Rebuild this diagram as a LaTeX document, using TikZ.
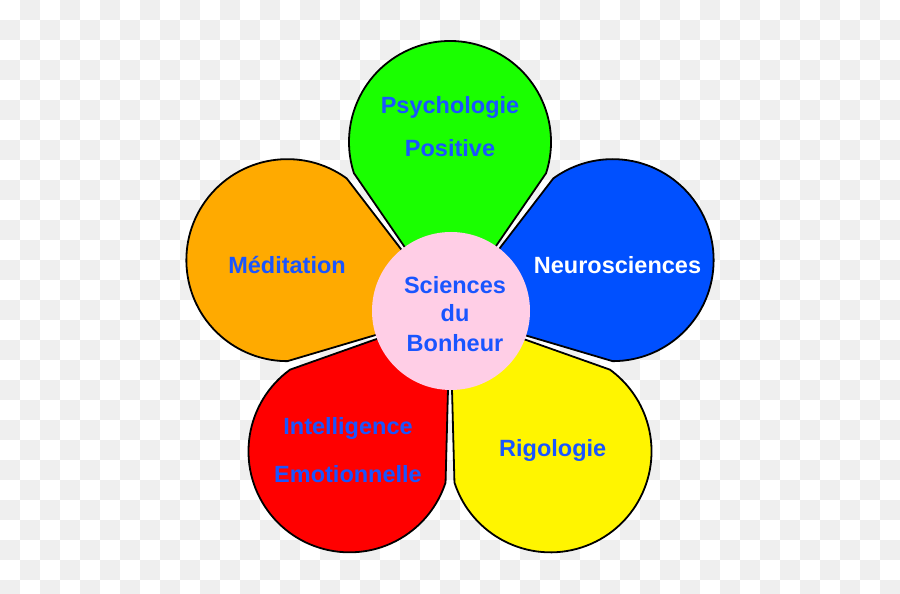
\documentclass[tikz,border=0pt]{standalone}
\usepackage{fontspec}
\setmainfont{Liberation Sans}
\definecolor{chk}{RGB}{239,239,239}
\definecolor{pgreen}{RGB}{26,255,0}
\definecolor{porange}{RGB}{255,170,0}
\definecolor{pblue}{RGB}{0,80,255}
\definecolor{pred}{RGB}{255,0,0}
\definecolor{pyellow}{RGB}{255,245,0}
\definecolor{ppink}{RGB}{255,206,230}
\definecolor{txtblue}{RGB}{25,85,255}
\begin{document}
\begin{tikzpicture}[x=1pt,y=1pt,
  petal/.style={draw=black, line width=1.8pt, line join=round},
  lbl/.style={font=\fontsize{23.5}{28}\selectfont\bfseries, text=txtblue, inner sep=0pt, anchor=base}]
\useasboundingbox (0,0) rectangle (900,594);
\fill[white] (0,0) rectangle (900,594);
\begin{scope}
\clip (0,0) rectangle (900,594);
\foreach \i in {0,...,44}{
  \foreach \j in {0,...,29}{
    \pgfmathtruncatemacro\oddsq{mod(\i+\j,2)}
    \ifnum\oddsq=1 \fill[chk] ({20*\i},{574-20*\j}) rectangle ++(20,20); \fi
  }
}
\end{scope}
% petals
\foreach \ang/\col in {90/pgreen,162/porange,234/pred,306/pyellow,18/pblue}{
  \begin{scope}[shift={(450,281)}, rotate=\ang]
    \draw[petal, fill=\col] (0,0) -- ({171+101*cos(108)},{-101*sin(108)})
      arc[start angle=-108, end angle=108, radius=101pt] -- cycle;
  \end{scope}
}
% centre
\node[circle, fill=ppink, minimum size=158pt, inner sep=0pt] (centre) at (451,283) {};
% labels
\node[lbl] (psy1) at (450,480.7) {Psychologie};
\node[lbl] (psy2) at (450,437.3) {Positive};
\node[lbl] (med) at (287,320) {Méditation};
\node[lbl, text=white] (neu) at (617.5,320.7) {Neurosciences};
\node[lbl] (sci1) at (455,300) {Sciences};
\node[lbl] (sci2) at (455,272.3) {du};
\node[lbl] (sci3) at (455,242.3) {Bonheur};
\node[lbl] (int1) at (348,159) {Intelligence};
\node[lbl] (int2) at (348,111.3) {Emotionnelle};
\node[lbl] (rig) at (552.7,137.3) {Rigologie};
\end{tikzpicture}
\end{document}
